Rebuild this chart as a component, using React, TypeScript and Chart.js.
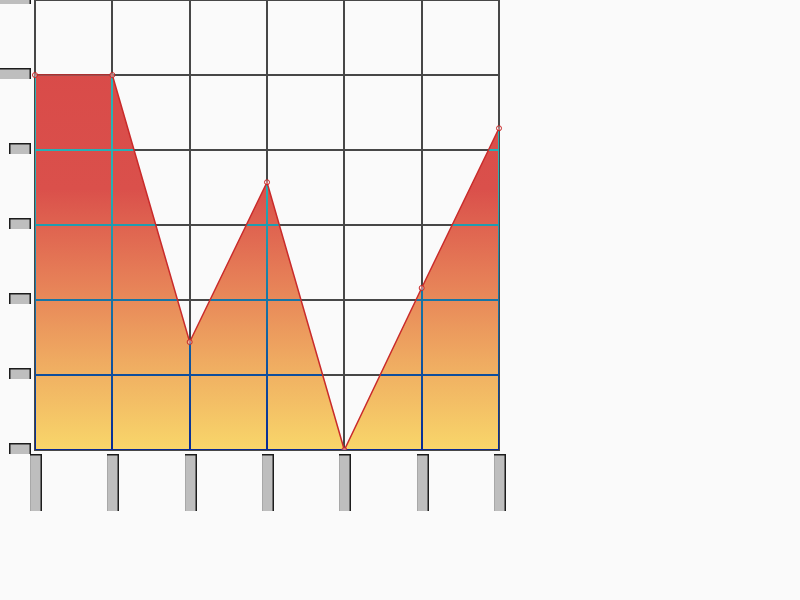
import React, { useEffect, useRef } from 'react';
import { Chart, registerables } from 'chart.js';

Chart.register(...registerables);

// ---- data ----
const categories = ['1', '2', '3', '4', '5', '6', '7'];
const values = [50, 50, 14.4, 35.7, 0, 21.6, 42.9];
const yMin = 0;
const yMax = 60;
const yStep = 10;
const wideTickValues = [50, 60];

// ---- style ----
const GRID = '#474747';
const BOX_FILL = '#bebebe';
const BOX_EDGE = '#1c1c1c';

const alignPx = (p: number, w: number) => Math.round(p - w / 2) + w / 2;

const invertGridPlugin = {
  id: 'invertGrid',
  beforeDatasetDraw(chart: any, args: any) {
    const pts = args.meta.data;
    if (!pts || !pts.length) return;
    const xs = chart.scales.x;
    const ys = chart.scales.y;
    const area = chart.chartArea;
    const base = ys.getPixelForValue(yMin);
    const ctx = chart.ctx as CanvasRenderingContext2D;
    ctx.save();
    ctx.beginPath();
    ctx.moveTo(pts[0].x, base);
    pts.forEach((p: any) => ctx.lineTo(p.x, p.y));
    ctx.lineTo(pts[pts.length - 1].x, base);
    ctx.closePath();
    ctx.clip();
    ctx.globalCompositeOperation = 'difference';
    ctx.strokeStyle = '#ffffff';
    ctx.lineWidth = 2;
    ctx.beginPath();
    xs.ticks.forEach((_: any, i: number) => {
      const x = alignPx(xs.getPixelForTick(i), 2);
      ctx.moveTo(x, area.top);
      ctx.lineTo(x, area.bottom);
    });
    ys.ticks.forEach((_: any, i: number) => {
      const y = alignPx(ys.getPixelForTick(i), 2);
      ctx.moveTo(area.left, y);
      ctx.lineTo(area.right, y);
    });
    ctx.stroke();
    ctx.restore();
  },
};

const tickBoxPlugin = {
  id: 'tickBoxes',
  afterDraw(chart: any) {
    const ctx = chart.ctx as CanvasRenderingContext2D;
    const xs = chart.scales.x;
    const ys = chart.scales.y;
    const area = chart.chartArea;
    ctx.save();
    ys.ticks.forEach((t: any, i: number) => {
      const y = Math.round(ys.getPixelForTick(i));
      const right = area.left - 4;
      const left = wideTickValues.includes(t.value) ? -4 : right - 22;
      const top = y - 7;
      const bottom = y + 4;
      ctx.fillStyle = BOX_FILL;
      ctx.fillRect(left, top, right - left, bottom - top);
      ctx.fillStyle = BOX_EDGE;
      ctx.fillRect(left, top, right - left, 1.5);
      ctx.fillRect(left, top, 1.5, bottom - top);
      ctx.fillRect(right - 1.5, top, 1.5, bottom - top);
    });
    xs.ticks.forEach((_: any, i: number) => {
      const x = Math.round(xs.getPixelForTick(i));
      const left = x - 5;
      const right = x + 7;
      const top = area.bottom + 4;
      const bottom = area.bottom + 61;
      ctx.fillStyle = BOX_FILL;
      ctx.fillRect(left, top, right - left, bottom - top);
      ctx.fillStyle = '#a8a8a8';
      ctx.fillRect(left, top, 1, bottom - top);
      ctx.fillStyle = BOX_EDGE;
      ctx.fillRect(left, top, right - left, 1.5);
      ctx.fillRect(right - 1.5, top, 1.5, bottom - top);
    });
    ctx.restore();
  },
};

export default function App() {
  const ref = useRef<HTMLCanvasElement>(null);

  useEffect(() => {
    if (!ref.current) return;
    const chart = new Chart(ref.current, {
      type: 'line',
      data: {
        labels: categories,
        datasets: [
          {
            data: values,
            fill: 'origin',
            tension: 0,
            borderColor: '#c92a2a',
            borderWidth: 1.5,
            pointRadius: 2.5,
            pointBorderWidth: 1,
            pointBorderColor: '#c62424',
            pointBackgroundColor: 'rgba(255,255,255,0.35)',
            backgroundColor: (c: any) => {
              const { chart: ch } = c;
              const a = ch.chartArea;
              if (!a) return 'rgb(217,74,74)';
              const g = ch.ctx.createLinearGradient(0, a.top, 0, a.bottom);
              g.addColorStop(0, 'rgb(216,72,72)');
              g.addColorStop(0.42, 'rgb(218,80,75)');
              g.addColorStop(0.6, 'rgb(229,122,86)');
              g.addColorStop(0.8, 'rgb(239,170,97)');
              g.addColorStop(1, 'rgb(248,214,106)');
              return g;
            },
          },
        ],
      },
      options: {
        responsive: false,
        animation: false,
        layout: { autoPadding: false, padding: { left: 0, top: 0, right: 301, bottom: 0 } },
        plugins: {
          legend: { display: false },
          title: { display: false },
          tooltip: { enabled: false },
        },
        scales: {
          x: {
            type: 'category',
            offset: false,
            grid: { color: GRID, lineWidth: 2, drawTicks: false },
            border: { color: GRID, width: 2 },
            ticks: { display: false },
            afterFit: (s: any) => {
              s.height = 150;
            },
          },
          y: {
            min: yMin,
            max: yMax,
            ticks: { stepSize: yStep, display: false },
            grid: { color: GRID, lineWidth: 2, drawTicks: false },
            border: { color: GRID, width: 2 },
            afterFit: (s: any) => {
              s.width = 35;
            },
          },
        },
      },
      plugins: [invertGridPlugin, tickBoxPlugin],
    } as any);
    return () => chart.destroy();
  }, []);

  return (
    <div
      style={{
        position: 'fixed',
        left: 0,
        top: 0,
        width: 800,
        height: 600,
        background: '#fafafa',
      }}
    >
      <canvas
        ref={ref}
        width={800}
        height={600}
        style={{ display: 'block', width: 800, height: 600 }}
      />
    </div>
  );
}
